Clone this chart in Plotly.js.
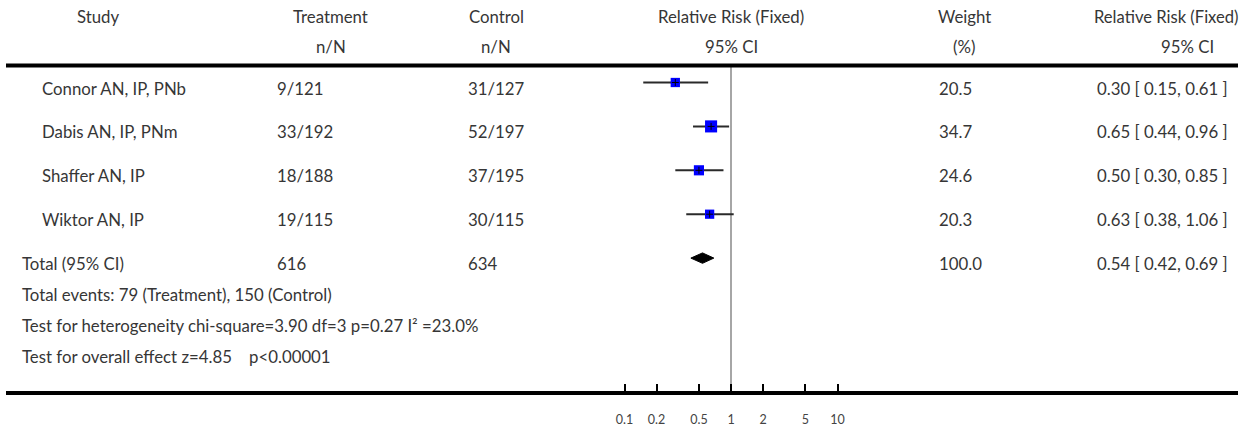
<!DOCTYPE html>
<html>
<head>
<meta charset="utf-8">
<script src="https://cdn.plot.ly/plotly-3.0.1.min.js"></script>
<style>html,body{margin:0;padding:0;background:#fff;}#chart{width:1250px;height:429px;}</style>
</head>
<body>
<div id="chart"></div>
<script>
// ---- data ----
const studies = ['Connor AN, IP, PNb', 'Dabis AN, IP, PNm', 'Shaffer AN, IP', 'Wiktor AN, IP'];
const treatment = ['9/121', '33/192', '18/188', '19/115'];
const control = ['31/127', '52/197', '37/195', '30/115'];
const rr = [0.30, 0.65, 0.50, 0.63];
const rrLow = [0.15, 0.44, 0.30, 0.38];
const rrHigh = [0.61, 0.96, 0.85, 1.06];
const weight = [20.5, 34.7, 24.6, 20.3];

const totalLabel = 'Total (95% CI)';
const totalTreatment = '616';
const totalControl = '634';
const totalRR = 0.54;
const totalLow = 0.42;
const totalHigh = 0.69;
const totalWeight = 100.0;

const footnotes = [
  'Total events: 79 (Treatment), 150 (Control)',
  'Test for heterogeneity chi-square=3.90 df=3 p=0.27 I\u00b2 =23.0%',
  'Test for overall effect z=4.85\u00a0\u00a0\u00a0\u00a0p<0.00001'
];

const tickVals = [0.1, 0.2, 0.5, 1, 2, 5, 10];
const tickText = ['0.1', '0.2', '0.5', '1', '2', '5', '10'];

// ---- geometry helpers (layout only) ----
const W = 1250, H = 429;
const px = v => v / W;            // pixel x -> paper
const py = v => 1 - v / H;        // pixel y (from top) -> paper
const rowTop = 82.5, rowStep = 43.9;
const xLeftPx = 6, xRightPx = 1238, onePx = 731, pxPerDecade = 106.5;
const xRange = [(xLeftPx - onePx) / pxPerDecade, (xRightPx - onePx) / pxPerDecade];
const yRange = [(H - rowTop) / rowStep, -rowTop / rowStep];

const FONT = 'Lato, "Open Sans", sans-serif';
const TXT = '#363636';
const fs = 16.8;

const rows = studies.map((_, i) => i);
const totalRow = studies.length;
const fmt2 = v => v.toFixed(2);

// ---- traces ----
const ciTrace = {
  type: 'scatter', mode: 'markers',
  x: rr, y: rows,
  marker: { symbol: 'square', color: '#0000ff', opacity: 1, size: weight.map(w => 2.05 * Math.sqrt(w)), line: { width: 0 } },
  error_x: {
    type: 'data', symmetric: false,
    array: rr.map((v, i) => rrHigh[i] - v),
    arrayminus: rr.map((v, i) => v - rrLow[i]),
    color: '#2a2a2a', thickness: 2, width: 0
  },
  hoverinfo: 'skip'
};
const centerTrace = {
  type: 'scatter', mode: 'markers',
  x: rr, y: rows,
  marker: { symbol: 'cross-thin', size: 5, opacity: 1, line: { width: 1, color: '#000' } },
  hoverinfo: 'skip'
};
const dh = 5.2 / rowStep;
const diamond = {
  type: 'scatter', mode: 'lines',
  x: [totalLow, totalRR, totalHigh, totalRR, totalLow],
  y: [totalRow, totalRow - dh, totalRow, totalRow + dh, totalRow],
  fill: 'toself', fillcolor: '#000', line: { color: '#000', width: 1 },
  hoverinfo: 'skip'
};

// ---- annotations ----
const ann = [];
function addText(text, xPx, yPx, anchor, size) {
  ann.push({ text: text, xref: 'paper', yref: 'paper', x: px(xPx), y: py(yPx),
    xanchor: anchor, yanchor: 'middle', showarrow: false, borderpad: 0, borderwidth: 0,
    font: { family: FONT, size: size || fs, color: TXT } });
}
function addRowText(text, xPx, row, anchor) {
  ann.push({ text: text, xref: 'paper', yref: 'y', x: px(xPx), y: row, yshift: -5.5,
    xanchor: anchor, yanchor: 'middle', showarrow: false, borderpad: 0, borderwidth: 0,
    font: { family: FONT, size: fs, color: TXT } });
}
// headers
addText('Study', 98, 17, 'center');
addText('Treatment', 330, 17, 'center');
addText('n/N', 331, 47, 'center');
addText('Control', 496.5, 17, 'center');
addText('n/N', 496, 47, 'center');
addText('Relative Risk (Fixed)', 731, 17, 'center');
addText('95% CI', 731, 47, 'center');
addText('Weight', 964, 17, 'center');
addText('(%)', 964, 47, 'center');
addText('Relative Risk (Fixed)', 1094, 17, 'left', 16.6);
addText('95% CI', 1187, 47, 'center');

// study rows
rows.forEach(i => {
  addRowText(studies[i], 42, i, 'left');
  addRowText(treatment[i], 277, i, 'left');
  addRowText(control[i], 468, i, 'left');
  addRowText(weight[i].toFixed(1), 939, i, 'left');
  addRowText(fmt2(rr[i]) + ' [ ' + fmt2(rrLow[i]) + ', ' + fmt2(rrHigh[i]) + ' ]', 1097, i, 'left');
});
// total row
addRowText(totalLabel, 22, totalRow, 'left');
addRowText(totalTreatment, 277, totalRow, 'left');
addRowText(totalControl, 468, totalRow, 'left');
addRowText(totalWeight.toFixed(1), 939, totalRow, 'left');
addRowText(fmt2(totalRR) + ' [ ' + fmt2(totalLow) + ', ' + fmt2(totalHigh) + ' ]', 1097, totalRow, 'left');

// footnotes
const footY = [294, 325, 356];
footnotes.forEach((t, i) => addText(t, 22, footY[i], 'left'));

// ---- shapes ----
const shapes = [
  { type: 'line', xref: 'paper', yref: 'paper', x0: px(xLeftPx), x1: px(xRightPx), y0: py(65.5), y1: py(65.5),
    line: { color: '#000', width: 4 } },
  { type: 'line', xref: 'x', yref: 'paper', x0: 1, x1: 1, y0: py(67), y1: py(392),
    line: { color: '#888', width: 1.5 }, layer: 'below' }
];

const layout = {
  width: W, height: H,
  margin: { l: 0, r: 0, t: 0, b: 0, pad: 0 },
  paper_bgcolor: '#fff', plot_bgcolor: '#fff',
  showlegend: false,
  xaxis: {
    type: 'log', range: xRange, domain: [px(xLeftPx), px(xRightPx)],
    anchor: 'free', position: (H - 392.7) / H,
    showline: true, linecolor: '#000', linewidth: 4,
    ticks: 'inside', ticklen: 7, tickwidth: 2, tickcolor: '#000',
    tickmode: 'array', tickvals: tickVals, ticktext: tickText,
    ticklabelstandoff: 14,
    tickfont: { family: FONT, size: 12.5, color: '#444' },
    showgrid: false, zeroline: false, fixedrange: true
  },
  yaxis: { range: yRange, visible: false, showgrid: false, zeroline: false, fixedrange: true },
  annotations: ann,
  shapes: shapes
};

Plotly.newPlot('chart', [ciTrace, centerTrace, diamond], layout, { displayModeBar: false, staticPlot: true });
</script>
</body>
</html>
